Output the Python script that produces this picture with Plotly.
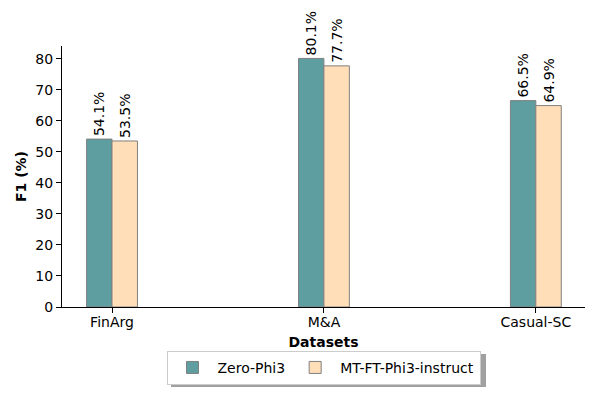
import plotly.graph_objects as go

datasets = ["FinArg", "M&A", "Casual-SC"]
zero_phi3 = [54.1, 80.1, 66.5]
mt_ft_phi3 = [53.5, 77.7, 64.9]

FONT = "DejaVu Sans"
FS = 14
L, R, T, B = 62, 15, 46, 93
PW, PH = 600 - L - R, 400 - T - B


def px_x(v):
    return (v - L) / PW


def px_y(v):
    return (400 - B - v) / PH


fig = go.Figure()
fig.add_trace(go.Bar(
    x=datasets, y=zero_phi3, name="Zero-Phi3",
    marker=dict(color="#5F9EA0", line=dict(color="#808080", width=1)),
    texttemplate="%{y:.1f}%", textposition="outside", textangle=-90,
    textfont=dict(family=FONT, size=FS, color="black"),
    constraintext="none", cliponaxis=False,
))
fig.add_trace(go.Bar(
    x=datasets, y=mt_ft_phi3, name="MT-FT-Phi3-instruct",
    marker=dict(color="#FFDEB8", line=dict(color="#808080", width=1)),
    texttemplate="%{y:.1f}%", textposition="outside", textangle=-90,
    textfont=dict(family=FONT, size=FS, color="black"),
    constraintext="none", cliponaxis=False,
))

# legend drop shadow
fig.add_shape(type="rect", xref="paper", yref="paper",
              x0=px_x(171), x1=px_x(486), y0=px_y(354), y1=px_y(387),
              fillcolor="#A0A0A0", line=dict(width=0), layer="above")

fig.update_layout(
    width=600, height=400,
    margin=dict(l=L, r=R, t=T, b=B, autoexpand=False),
    paper_bgcolor="white", plot_bgcolor="white",
    font=dict(family=FONT, size=FS, color="black"),
    barmode="group", bargap=0.76, bargroupgap=0,
    showlegend=True,
    legend=dict(
        orientation="h", x=0.5, xanchor="center", y=-0.168, yanchor="top",
        bordercolor="#CCCCCC", borderwidth=1, bgcolor="white",
        font=dict(family=FONT, size=FS),
        itemwidth=40,
    ),
    xaxis=dict(
        range=[-0.236, 2.232], showline=True, linecolor="black", linewidth=1,
        ticks="outside", ticklen=5, tickcolor="black", automargin=False,
        ticklabelstandoff=-3,
        title=dict(text="<b>Datasets</b>", font=dict(family=FONT, size=FS), standoff=8),
        showgrid=False, zeroline=False,
    ),
    yaxis=dict(
        range=[0, 84.1], showline=True, linecolor="black", linewidth=1,
        ticks="outside", ticklen=5, tickcolor="black", automargin=False,
        tickvals=[0, 10, 20, 30, 40, 50, 60, 70, 80],
        title=dict(text="<b>F1 (%)</b>", font=dict(family=FONT, size=FS), standoff=5),
        showgrid=False, zeroline=False,
    ),
)

fig.write_html("out.html", config={"displayModeBar": False},
               post_script="document.body.style.margin='0';")
